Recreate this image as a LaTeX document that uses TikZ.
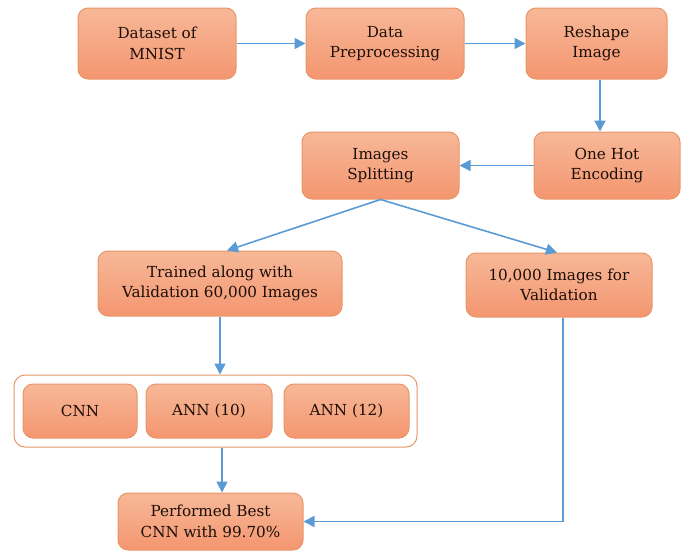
\documentclass[tikz,border=0pt]{standalone}
\usepackage{fontspec}
\setmainfont{DejaVu Serif}
\newfontfamily\boxfont{DejaVu Serif}
\usetikzlibrary{arrows.meta,calc}
\definecolor{boxtop}{RGB}{247,184,152}
\definecolor{boxbot}{RGB}{244,150,112}
\definecolor{boxedge}{RGB}{232,150,105}
\definecolor{arrowblue}{RGB}{91,155,213}
\definecolor{txt}{RGB}{28,14,8}
\tikzset{
  x=1pt, y=-1pt,
  procbox/.style={draw=boxedge, line width=1pt, rounded corners=10pt,
    top color=boxtop, bottom color=boxbot, align=center, text=txt,
    font=\boxfont\fontsize{15.2}{20.5}\selectfont, inner sep=0pt},
  holder/.style={draw=boxedge, line width=1pt, rounded corners=11pt, fill=white, inner sep=0pt},
  arr/.style={draw=arrowblue, line width=1.6pt, -{Triangle[length=11pt,width=11pt]}}
}
\begin{document}
\begin{tikzpicture}
\useasboundingbox (0,0) rectangle (681,552);
\node[procbox, minimum width=158pt, minimum height=71pt] (ds) at (157,43.5) {Dataset of\\MNIST};
\node[procbox, minimum width=158pt, minimum height=71pt] (pre) at (385,43.5) {Data\\Preprocessing};
\node[procbox, minimum width=141pt, minimum height=71pt] (resh) at (596.5,43.5) {Reshape\\Image};
\node[procbox, minimum width=146pt, minimum height=67pt] (hot) at (607,165.5) {One Hot\\Encoding};
\node[procbox, minimum width=157pt, minimum height=67pt] (split) at (380.5,165.5) {Images\\Splitting};
\node[procbox, minimum width=244pt, minimum height=65pt] (train) at (220,283.5) {Trained along with\\Validation 60,000 Images};
\node[procbox, minimum width=186pt, minimum height=64pt] (valid) at (559,285) {10,000 Images for\\Validation};
\node[holder, minimum width=403pt, minimum height=72pt] (cont) at (215.5,411) {};
\node[procbox, minimum width=114pt, minimum height=54pt] (cnn) at (80,411) {CNN};
\node[procbox, minimum width=126pt, minimum height=54pt] (ann10) at (209,411) {ANN (10)};
\node[procbox, minimum width=125pt, minimum height=54pt] (ann12) at (346.5,411) {ANN (12)};
\node[procbox, minimum width=185pt, minimum height=57pt] (best) at (210.5,521.5) {Performed Best\\CNN with 99.70\%};

\draw[arr] (ds.east) -- (pre.west);
\draw[arr] (pre.east) -- (resh.west);
\draw[arr] ([xshift=3.5pt]resh.south) -- ([xshift=3.5pt]resh.south |- hot.north);
\draw[arr] (hot.west) -- (split.east);
\draw[arr] (split.south) -- ([xshift=7pt]train.north);
\draw[arr] (split.south) -- ([xshift=-2pt]valid.north);
\draw[arr] (train.south) -- (train.south |- cont.north);
\draw[arr] ([xshift=2pt]train.south |- cont.south) -- ([xshift=2pt]train.south |- best.north);
\draw[arr] ([xshift=4pt]valid.south) |- (best.east);
\end{tikzpicture}
\end{document}
